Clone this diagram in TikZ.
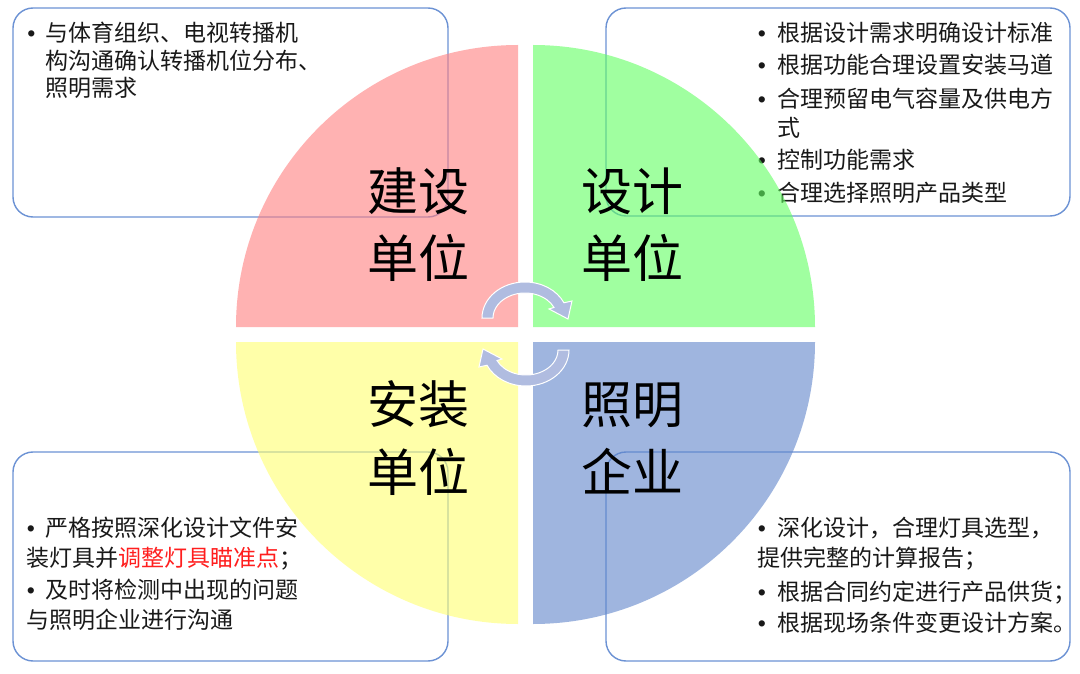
\documentclass[tikz,border=0pt]{standalone}
\usepackage{fontspec}
\setmainfont{Noto Sans CJK SC}
\newfontfamily\bulletfont{Liberation Sans}
\definecolor{boxblue}{RGB}{108,146,212}
\definecolor{qpink}{RGB}{255,127,127}
\definecolor{qgreen}{RGB}{97,255,97}
\definecolor{qyellow}{RGB}{255,255,113}
\definecolor{qblue}{RGB}{95,133,203}
\definecolor{arrowfill}{RGB}{176,188,224}
\definecolor{hired}{RGB}{255,30,30}
\definecolor{txt}{RGB}{25,25,25}
\begin{document}
\begin{tikzpicture}[x=1pt,y=-1pt,
  infobox/.style={draw=boxblue,line width=1.4pt,rounded corners=20pt,fill=white},
  quad/.style={fill opacity=0.6},
  line/.style={font=\fontsize{23}{28}\selectfont,anchor=base west,inner sep=0pt,text=txt},
  dot/.style={font=\bulletfont\fontsize{23}{28}\selectfont,anchor=base,inner sep=0pt,text=txt},
  biglabel/.style={font=\fontsize{51}{60}\selectfont,anchor=base,inner sep=0pt,text=black},
  cyc/.style={fill=arrowfill,draw=white,line width=1pt}]
\useasboundingbox[fill=white] (0,0) rectangle (1080,674);

% info boxes
\draw[infobox] (13,8) rectangle (448,217);
\draw[infobox] (606,8) rectangle (1070,216);
\draw[infobox] (13,452) rectangle (448,661);
\draw[infobox] (606,452) rectangle (1070,661);

% top-left text
\node[dot] (tlb1) at (31.5,41.7) {•};
\node[line] (tl1) at (45,41.7) {与体育组织、电视转播机};
\node[line] (tl2) at (45,69.2) {构沟通确认转播机位分布、};
\node[line] (tl3) at (45,96.7) {照明需求};

% top-right text
\node[dot] (trb1) at (762,41.4) {•};
\node[line] (tr1) at (777,41.4) {根据设计需求明确设计标准};
\node[dot] (trb2) at (762,73.7) {•};
\node[line] (tr2) at (777,73.7) {根据功能合理设置安装马道};
\node[dot] (trb3) at (762,107.7) {•};
\node[line] (tr3) at (777,107.7) {合理预留电气容量及供电方};
\node[line] (tr3b) at (777,136.2) {式};
\node[dot] (trb4) at (762,168.7) {•};
\node[line] (tr4) at (777,168.7) {控制功能需求};
\node[dot] (trb5) at (762,201.2) {•};
\node[line] (tr5) at (777,201.2) {合理选择照明产品类型};

% bottom-left text
\node[dot] (blb1) at (31,536.7) {•};
\node[line] (bl1) at (45,536.7) {严格按照深化设计文件安};
\node[line] (bl1b) at (26,566.7) {装灯具并{\color{hired}调整灯具瞄准点}；};
\node[dot] (blb2) at (31,598.7) {•};
\node[line] (bl2) at (45,598.7) {及时将检测中出现的问题};
\node[line] (bl2b) at (26,628.7) {与照明企业进行沟通};

% bottom-right text
\node[dot] (brb1) at (762,536.7) {•};
\node[line] (br1) at (777,536.7) {深化设计，合理灯具选型，};
\node[line] (br1b) at (757,566.7) {提供完整的计算报告；};
\node[dot] (brb2) at (762,600.7) {•};
\node[line] (br2) at (777,600.7) {根据合同约定进行产品供货；};
\node[dot] (brb3) at (762,631.7) {•};
\node[line] (br3) at (777,631.7) {根据现场条件变更设计方案。};

% quadrants
\fill[quad,qpink] (518,327) -- ++(180:282) arc[start angle=180,end angle=270,radius=282] -- cycle;
\fill[quad,qgreen] (533,327) -- ++(270:282) arc[start angle=270,end angle=360,radius=282] -- cycle;
\fill[quad,qyellow] (518,342) -- ++(90:282) arc[start angle=90,end angle=180,radius=282] -- cycle;
\fill[quad,qblue] (533,342) -- ++(0:282) arc[start angle=0,end angle=90,radius=282] -- cycle;

% cycle arrows
\begin{scope}[shift={(525,318)}]
\filldraw[cyc] (180:43 and 36) arc[start angle=180,end angle=335,x radius=43,y radius=36]
  -- (47,-17) -- (43,1) -- (24,-9) -- (335:32 and 25)
  arc[start angle=335,end angle=180,x radius=32,y radius=25] -- cycle;
\end{scope}
\begin{scope}[shift={(526,350)},rotate=180]
\filldraw[cyc] (180:43 and 36) arc[start angle=180,end angle=335,x radius=43,y radius=36]
  -- (47,-17) -- (43,1) -- (24,-9) -- (335:32 and 25)
  arc[start angle=335,end angle=180,x radius=32,y radius=25] -- cycle;
\end{scope}

% big labels
\node[biglabel] (jianshe) at (418,210.4) {建设};
\node[biglabel] (danwei1) at (418,277.4) {单位};
\node[biglabel] (sheji) at (632,210.4) {设计};
\node[biglabel] (danwei2) at (632,277.4) {单位};
\node[biglabel] (anzhuang) at (418,423.4) {安装};
\node[biglabel] (danwei3) at (418,491.4) {单位};
\node[biglabel] (zhaoming) at (632,423.4) {照明};
\node[biglabel] (qiye) at (632,491.4) {企业};
\end{tikzpicture}
\end{document}
